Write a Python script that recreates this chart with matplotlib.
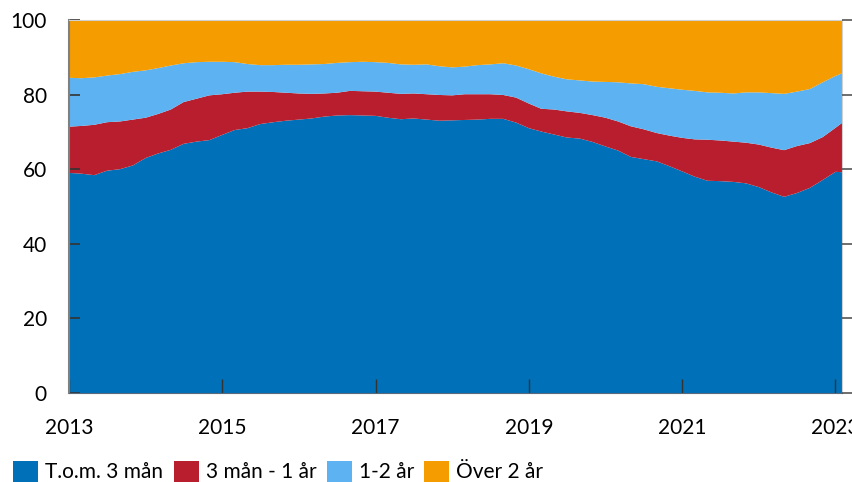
import matplotlib
matplotlib.use("Agg")
import matplotlib.pyplot as plt
from matplotlib.patches import Patch
import pandas as pd
import numpy as np

plt.rcParams['font.family'] = ['Lato', 'DejaVu Sans']

# Bi-monthly observations, Jan 2013 .. Jan 2023, plus Feb 2023
dates = list(pd.date_range("2013-01-01", "2023-01-01", freq="2MS")) + [pd.Timestamp("2023-02-01")]

series_names = ["T.o.m. 3 mån", "3 mån - 1 år", "1-2 år", "Över 2 år"]
colors = ["#0070B8", "#B81E2D", "#5DB3F2", "#F59C00"]

tom_3man = [
    59.0, 58.8, 58.4, 59.6, 60.0, 61.0,
    63.0, 64.2, 65.2, 66.8, 67.4, 67.8,
    69.2, 70.5, 71.0, 72.1, 72.6, 73.0,
    73.3, 73.6, 74.1, 74.4, 74.5, 74.4,
    74.3, 73.8, 73.4, 73.6, 73.3, 73.0,
    73.1, 73.2, 73.3, 73.5, 73.5, 72.5,
    71.0, 70.1, 69.3, 68.5, 68.2, 67.3,
    66.1, 65.0, 63.3, 62.7, 62.1, 60.8,
    59.4, 58.0, 56.9, 56.8, 56.6, 56.2,
    55.2, 53.8, 52.6, 53.6, 55.0, 57.1,
    59.3, 59.2,
]
man3_1ar = [
    12.4, 12.8, 13.5, 13.0, 12.8, 12.3,
    10.8, 10.6, 10.8, 11.2, 11.5, 12.0,
    10.9, 10.0, 9.8, 8.7, 8.1, 7.5,
    7.0, 6.6, 6.2, 6.1, 6.5, 6.5,
    6.5, 6.7, 6.8, 6.7, 6.8, 6.9,
    6.7, 6.9, 6.8, 6.6, 6.4, 6.7,
    6.6, 6.1, 6.7, 7.0, 6.9, 7.2,
    7.7, 7.8, 8.2, 8.0, 7.6, 8.2,
    9.0, 10.0, 11.0, 10.9, 10.8, 10.9,
    11.4, 12.0, 12.5, 12.6, 12.0, 11.5,
    11.8, 13.2,
]
ar1_2 = [
    13.1, 12.8, 12.7, 12.5, 12.7, 12.8,
    12.7, 12.3, 11.8, 10.4, 9.8, 9.0,
    8.7, 8.2, 7.4, 7.1, 7.2, 7.5,
    7.7, 7.9, 7.9, 8.0, 7.7, 7.9,
    7.9, 8.0, 7.9, 7.7, 8.0, 7.7,
    7.5, 7.4, 7.8, 8.0, 8.5, 8.6,
    9.2, 9.5, 8.8, 8.6, 8.7, 9.0,
    9.6, 10.5, 11.5, 12.1, 12.4, 12.7,
    12.9, 13.0, 12.7, 12.8, 12.9, 13.5,
    14.0, 14.6, 15.1, 14.6, 14.5, 14.7,
    13.9, 13.3,
]
over_2ar = [
    15.5, 15.6, 15.4, 14.9, 14.5, 13.9,
    13.5, 12.9, 12.2, 11.6, 11.3, 11.2,
    11.2, 11.3, 11.8, 12.1, 12.1, 12.0,
    12.0, 11.9, 11.8, 11.5, 11.3, 11.2,
    11.3, 11.5, 11.9, 12.0, 11.9, 12.4,
    12.7, 12.5, 12.1, 11.9, 11.6, 12.2,
    13.2, 14.3, 15.2, 15.9, 16.2, 16.5,
    16.6, 16.7, 17.0, 17.2, 17.9, 18.3,
    18.7, 19.0, 19.4, 19.5, 19.7, 19.4,
    19.4, 19.6, 19.8, 19.2, 18.5, 16.7,
    15.0, 14.3,
]

year_ticks = [2013, 2015, 2017, 2019, 2021, 2023]
y_ticks = [0, 20, 40, 60, 80, 100]

fig = plt.figure(figsize=(8.53, 4.82), dpi=100)
ax = fig.add_axes([69/853, 1 - 393/482, (842 - 69)/853, (393 - 20)/482])

ax.stackplot(dates, tom_3man, man3_1ar, ar1_2, over_2ar, colors=colors, linewidth=0)

ax.set_xlim(dates[0], dates[-1])
ax.set_ylim(0, 100)
ax.set_yticks(y_ticks)
ax.set_xticks([pd.Timestamp(f"{y}-01-01") for y in year_ticks])
ax.set_xticklabels([str(y) for y in year_ticks])

ax.tick_params(axis='y', direction='in', length=8, width=1.2, color='#333333',
               labelsize=15, pad=16)
ax.tick_params(axis='x', direction='in', length=10, width=1.0, color='#333333',
               labelsize=15, pad=18)

ax.spines['left'].set_color('#808080')
ax.spines['left'].set_linewidth(1.5)
ax.spines['bottom'].set_color('#5a6a7a')
ax.spines['top'].set_color('#d0d0d0')
ax.spines['right'].set_color('#d0d0d0')

ax2 = ax.twinx()
ax2.set_ylim(0, 100)
ax2.set_yticks(y_ticks)
ax2.tick_params(axis='y', direction='out', length=10, width=1.2, color='#555555',
                labelright=False)
for s in ax2.spines.values():
    s.set_visible(False)

handles = [Patch(facecolor=c, edgecolor='none') for c in colors]
fig.legend(handles, series_names, loc='lower left', bbox_to_anchor=(0.006, -0.018),
           ncol=4, frameon=False, fontsize=15, handlelength=1.2, handleheight=1.2,
           handletextpad=0.33, columnspacing=0.5, borderaxespad=0.0)

fig.savefig("out.png", dpi=100)
